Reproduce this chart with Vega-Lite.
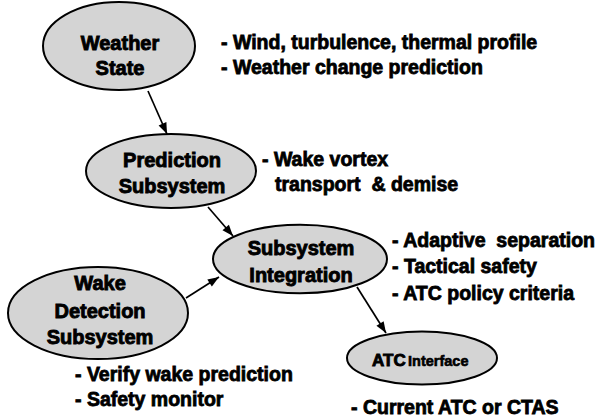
{
  "$schema": "https://vega.github.io/schema/vega-lite/v6.json",
  "width": 608,
  "height": 420,
  "padding": 0,
  "autosize": {"type": "none"},
  "background": "white",
  "config": {"view": {"stroke": null}},
  "datasets": {
    "nodes": [
      {"id": "weather", "cx": 119, "cy": 46},
      {"id": "prediction", "cx": 171, "cy": 171},
      {"id": "wake", "cx": 98, "cy": 313},
      {"id": "integration", "cx": 300, "cy": 259},
      {"id": "atc", "cx": 422, "cy": 358}
    ],
    "arrows": [
      {"x1": 148, "y1": 91, "x2": 167, "y2": 134},
      {"x1": 208, "y1": 207, "x2": 233, "y2": 236},
      {"x1": 186, "y1": 298, "x2": 219, "y2": 277},
      {"x1": 357, "y1": 287, "x2": 386, "y2": 333}
    ],
    "labels": [
      {"text": "Weather", "x": 120, "y": 50},
      {"text": "State", "x": 120, "y": 75},
      {"text": "Prediction", "x": 172, "y": 167},
      {"text": "Subsystem", "x": 172, "y": 193},
      {"text": "Wake", "x": 100, "y": 290},
      {"text": "Detection", "x": 100, "y": 318},
      {"text": "Subsystem", "x": 100, "y": 344},
      {"text": "Subsystem", "x": 301, "y": 255},
      {"text": "Integration", "x": 301, "y": 282}
    ],
    "notes": [
      {"text": "- Wind, turbulence, thermal profile", "x": 221, "y": 49},
      {"text": "- Weather change prediction", "x": 221, "y": 74},
      {"text": "- Wake vortex", "x": 262, "y": 166},
      {"text": "transport\u00a0 & demise", "x": 275, "y": 191},
      {"text": "- Adaptive\u00a0 separation", "x": 392, "y": 247},
      {"text": "- Tactical safety", "x": 392, "y": 273},
      {"text": "- ATC policy criteria", "x": 392, "y": 300},
      {"text": "- Verify wake prediction", "x": 75, "y": 381},
      {"text": "- Safety monitor", "x": 75, "y": 406},
      {"text": "- Current ATC or CTAS", "x": 351, "y": 414}
    ],
    "atcbig": [{"text": "ATC", "x": 372, "y": 366}],
    "atcsmall": [{"text": "Interface", "x": 408, "y": 366}]
  },
  "encoding": {
    "x": {"type": "quantitative", "scale": {"domain": [0, 608], "nice": false, "zero": false}, "axis": null},
    "y": {"type": "quantitative", "scale": {"domain": [0, 420], "nice": false, "zero": false, "reverse": true}, "axis": null}
  },
  "layer": [
    {
      "data": {"name": "arrows"},
      "mark": {"type": "rule", "stroke": "black", "strokeWidth": 1.7},
      "encoding": {
        "x": {"field": "x1", "type": "quantitative"},
        "y": {"field": "y1", "type": "quantitative"},
        "x2": {"field": "x2"},
        "y2": {"field": "y2"}
      }
    },
    {
      "data": {"name": "arrows"},
      "transform": [{"calculate": "atan2(datum.x2 - datum.x1, datum.y1 - datum.y2) * 180 / PI", "as": "ang"}],
      "mark": {"type": "point", "shape": "M0,0 L-0.38,1 L0.38,1 Z", "filled": true, "fill": "black", "stroke": null, "size": 500, "opacity": 1},
      "encoding": {
        "x": {"field": "x2", "type": "quantitative"},
        "y": {"field": "y2", "type": "quantitative"},
        "angle": {"field": "ang", "type": "quantitative", "scale": null}
      }
    },
    {
      "data": {"name": "nodes"},
      "transform": [{"filter": "datum.id == 'weather'"}],
      "mark": {"type": "point", "shape": "M-1,0 A1,0.579 0 1,1 1,0 A1,0.579 0 1,1 -1,0 Z", "size": 23104, "fill": "#d4d4d4", "fillOpacity": 1, "stroke": "black", "strokeWidth": 2, "opacity": 1},
      "encoding": {"x": {"field": "cx", "type": "quantitative"}, "y": {"field": "cy", "type": "quantitative"}}
    },
    {
      "data": {"name": "nodes"},
      "transform": [{"filter": "datum.id == 'prediction'"}],
      "mark": {"type": "point", "shape": "M-1,0 A1,0.435 0 1,1 1,0 A1,0.435 0 1,1 -1,0 Z", "size": 28900, "fill": "#d4d4d4", "fillOpacity": 1, "stroke": "black", "strokeWidth": 2, "opacity": 1},
      "encoding": {"x": {"field": "cx", "type": "quantitative"}, "y": {"field": "cy", "type": "quantitative"}}
    },
    {
      "data": {"name": "nodes"},
      "transform": [{"filter": "datum.id == 'wake'"}],
      "mark": {"type": "point", "shape": "M-1,0 A1,0.511 0 1,1 1,0 A1,0.511 0 1,1 -1,0 Z", "size": 32400, "fill": "#d4d4d4", "fillOpacity": 1, "stroke": "black", "strokeWidth": 2, "opacity": 1},
      "encoding": {"x": {"field": "cx", "type": "quantitative"}, "y": {"field": "cy", "type": "quantitative"}}
    },
    {
      "data": {"name": "nodes"},
      "transform": [{"filter": "datum.id == 'integration'"}],
      "mark": {"type": "point", "shape": "M-1,0 A1,0.395 0 1,1 1,0 A1,0.395 0 1,1 -1,0 Z", "size": 30276, "fill": "#d4d4d4", "fillOpacity": 1, "stroke": "black", "strokeWidth": 2, "opacity": 1},
      "encoding": {"x": {"field": "cx", "type": "quantitative"}, "y": {"field": "cy", "type": "quantitative"}}
    },
    {
      "data": {"name": "nodes"},
      "transform": [{"filter": "datum.id == 'atc'"}],
      "mark": {"type": "point", "shape": "M-1,0 A1,0.353 0 1,1 1,0 A1,0.353 0 1,1 -1,0 Z", "size": 22500, "fill": "#d4d4d4", "fillOpacity": 1, "stroke": "black", "strokeWidth": 2, "opacity": 1},
      "encoding": {"x": {"field": "cx", "type": "quantitative"}, "y": {"field": "cy", "type": "quantitative"}}
    },
    {
      "data": {"name": "labels"},
      "mark": {"type": "text", "font": "Liberation Sans", "fontWeight": "bold", "fontSize": 20, "align": "center", "baseline": "alphabetic", "fill": "black", "stroke": "black", "strokeWidth": 0.9},
      "encoding": {"x": {"field": "x", "type": "quantitative"}, "y": {"field": "y", "type": "quantitative"}, "text": {"field": "text"}}
    },
    {
      "data": {"name": "notes"},
      "mark": {"type": "text", "font": "Liberation Sans", "fontWeight": "bold", "fontSize": 19.5, "align": "left", "baseline": "alphabetic", "fill": "black", "stroke": "black", "strokeWidth": 0.8},
      "encoding": {"x": {"field": "x", "type": "quantitative"}, "y": {"field": "y", "type": "quantitative"}, "text": {"field": "text"}}
    },
    {
      "data": {"name": "atcbig"},
      "mark": {"type": "text", "font": "Liberation Sans", "fontWeight": "bold", "fontSize": 17, "align": "left", "baseline": "alphabetic", "fill": "black", "stroke": "black", "strokeWidth": 0.9},
      "encoding": {"x": {"field": "x", "type": "quantitative"}, "y": {"field": "y", "type": "quantitative"}, "text": {"field": "text"}}
    },
    {
      "data": {"name": "atcsmall"},
      "mark": {"type": "text", "font": "Liberation Sans", "fontWeight": "bold", "fontSize": 14.5, "align": "left", "baseline": "alphabetic", "fill": "black", "stroke": "black", "strokeWidth": 0.6},
      "encoding": {"x": {"field": "x", "type": "quantitative"}, "y": {"field": "y", "type": "quantitative"}, "text": {"field": "text"}}
    }
  ]
}
